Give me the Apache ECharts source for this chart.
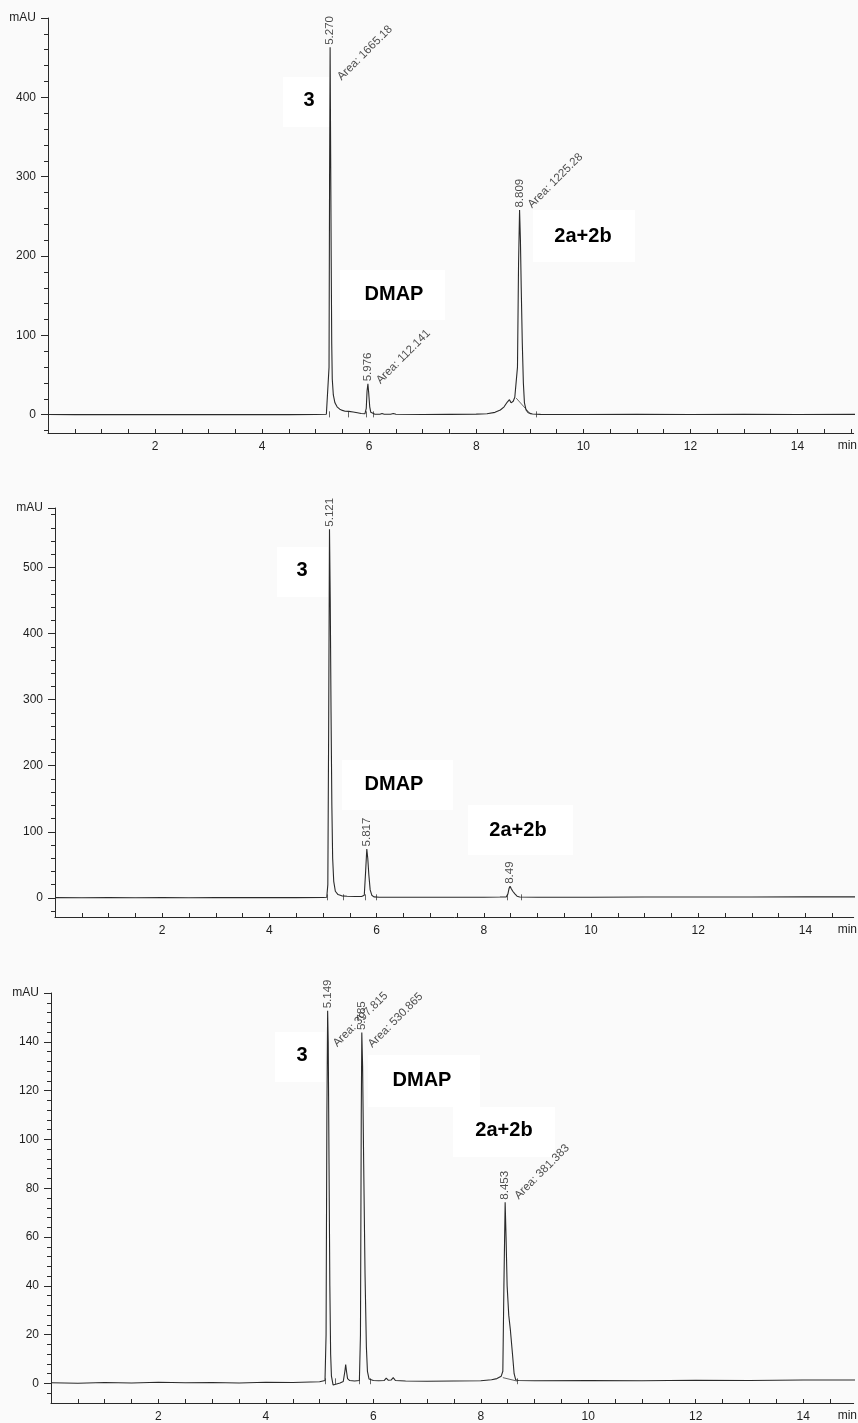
<!DOCTYPE html>
<html>
<head>
<meta charset="utf-8">
<title>HPLC chromatograms</title>
<script src="https://cdn.jsdelivr.net/npm/echarts@6/dist/echarts.min.js"></script>
<style>
  html, body { margin: 0; padding: 0; background: #fafafa; }
  #chart { width: 858px; height: 1423px; }
</style>
</head>
<body>
<div id="chart"></div>
<script>
// ---- retention-time axis (min) ----
const timeLabelValues = [2, 4, 6, 8, 10, 12, 14];
const timeTickValues = [0.5, 1, 1.5, 2, 2.5, 3, 3.5, 4, 4.5, 5, 5.5, 6, 6.5, 7, 7.5,
  8, 8.5, 9, 9.5, 10, 10.5, 11, 11.5, 12, 12.5, 13, 13.5, 14, 14.5, 15];

// ---- run A ----
const runAProfile = [
  [0, 0.3], [0.5, 0.2], [1, 0.4], [1.5, 0.1], [2, 0.3], [2.5, 0.2], [3, 0.4], [3.5, 0.2],
  [4, 0.3], [4.5, 0.2], [5, 0.4], [5.2, 0.6], [5.235, 1.5], [5.25, 60], [5.26, 300],
  [5.28, 330], [5.29, 200], [5.30, 90], [5.31, 45], [5.33, 25], [5.36, 15], [5.40, 10],
  [5.45, 7], [5.50, 5.5], [5.55, 4.5], [5.62, 4.2], [5.70, 3.5], [5.78, 2.5], [5.85, 1.5],
  [5.92, 1.2], [5.945, 8], [5.96, 30],
  [5.99, 28], [6.01, 10], [6.03, 3], [6.06, 0.5], [6.10, 0.8], [6.20, 0.6], [6.24, 1.6],
  [6.28, 0.7], [6.40, 0.6], [6.45, 1.5], [6.50, 0.6], [7, 0.4], [7.5, 0.5], [8, 0.8],
  [8.2, 1.2], [8.35, 3], [8.45, 6], [8.52, 10], [8.58, 16], [8.62, 19], [8.65, 15],
  [8.69, 17], [8.72, 22], [8.745, 21], [8.77, 60], [8.79, 190],
  [8.825, 220], [8.84, 160], [8.86, 90], [8.88, 40], [8.90, 15], [8.93, 6], [8.97, 2.5],
  [9.05, 1], [9.2, 0.5], [10, 0.4], [11, 0.5], [12, 0.4], [13, 0.5], [14, 0.4], [15.1, 0.5]
];
// [retention time, apex height, area]
const runAPeaks = [['5.270', 463, '1665.18'], ['5.976', 39, '112.141'], ['8.809', 258, '1225.28']];
const runABaselines = [[[8.745, 21], [9.02, 0.3]]];
const runAMarkers = [5.25, 5.60, 5.95, 6.08, 9.12];
const runAYLabels = [0, 100, 200, 300, 400];
const runAYMinor = [-20, 20, 40, 60, 80, 120, 140, 160, 180, 220, 240, 260, 280,
  320, 340, 360, 380, 420, 440, 460, 480];

// ---- run B ----
const runBProfile = [
  [0, 0.3], [0.5, 0.1], [1, 0.4], [1.5, 0.2], [2, 0.3], [2.5, 0.1], [3, 0.4], [3.5, 0.3],
  [4, 0.5], [4.5, 0.3], [5, 0.6], [5.07, 1], [5.09, 20], [5.105, 250],
  [5.135, 450], [5.15, 280], [5.165, 140], [5.18, 60], [5.20, 25], [5.23, 10], [5.28, 5],
  [5.35, 3], [5.45, 2.5], [5.6, 2], [5.72, 2], [5.77, 4], [5.795, 40],
  [5.835, 60], [5.855, 35], [5.88, 12], [5.91, 4], [5.95, 1.5], [6.05, 1], [6.5, 0.8],
  [7, 0.8], [7.5, 1], [8, 1], [8.3, 1.2], [8.42, 1.5], [8.45, 6], [8.47, 14],
  [8.51, 14], [8.54, 10], [8.58, 6], [8.62, 2.5], [8.67, 1.2], [9, 1], [10, 1], [11, 1.2],
  [12, 1.3], [13, 1.2], [14, 1.5], [15, 1.5]
];
const runBPeaks = [['5.121', 558, null], ['5.817', 74, null], ['8.49', 17.5, null]];
const runBBaselines = [];
const runBMarkers = [5.07, 5.37, 5.78, 6.0, 8.44, 8.70];
const runBYLabels = [0, 100, 200, 300, 400, 500];
const runBYMinor = [-20, 20, 40, 60, 80, 120, 140, 160, 180, 220, 240, 260, 280,
  320, 340, 360, 380, 420, 440, 460, 480, 520, 540, 560, 580];

// ---- run C ----
const runCProfile = [
  [0, 0.3], [0.5, 0.1], [1, 0.4], [1.5, 0.2], [2, 0.5], [2.5, 0.3], [3, 0.4], [3.5, 0.2],
  [4, 0.5], [4.5, 0.4], [5, 0.7], [5.1, 1.2], [5.12, 20], [5.135, 110],
  [5.16, 140], [5.175, 90], [5.19, 40], [5.205, 12], [5.22, 3], [5.25, -0.6], [5.30, -0.3],
  [5.38, 0.2], [5.44, 0.8], [5.47, 5], [5.485, 7.8], [5.50, 5], [5.52, 2], [5.56, 1.2],
  [5.65, 1.0], [5.74, 1.2], [5.76, 20], [5.775, 110],
  [5.80, 130], [5.82, 90], [5.845, 45], [5.87, 15], [5.89, 5], [5.92, 1.8], [6.0, 1.2],
  [6.1, 1.1], [6.2, 1.2], [6.24, 2.2], [6.28, 1.3], [6.33, 1.4], [6.37, 2.4], [6.41, 1.2],
  [6.6, 1.0], [7, 0.9], [7.5, 1], [8, 1.1], [8.2, 1.5], [8.3, 2], [8.38, 3], [8.41, 5],
  [8.43, 40],
  [8.47, 60], [8.49, 40], [8.52, 28], [8.55, 22], [8.59, 12], [8.62, 4], [8.65, 1.5],
  [8.7, 1.2], [9, 1.1], [10, 1.2], [11, 1.1], [12, 1.3], [13, 1.2], [14, 1.4], [15, 1.4]
];
const runCPeaks = [['5.149', 152.7, '397.815'], ['5.785', 143.8, '530.865'], ['8.453', 74.3, '381.383']];
const runCBaselines = [[[8.41, 2.4], [8.69, 0.9]]];
const runCMarkers = [5.10, 5.29, 5.74, 5.95, 8.68];
const runCYLabels = [0, 20, 40, 60, 80, 100, 120, 140];
const runCYMinor = [-4, 4, 8, 12, 16, 24, 28, 32, 36, 44, 48, 52, 56, 64, 68, 72, 76,
  84, 88, 92, 96, 104, 108, 112, 116, 124, 128, 132, 136, 144, 148, 152, 156];

// compound names printed beside the peaks
const compoundNames = ['3', 'DMAP', '2a+2b'];

// ---- layout and styling ----
const FONT = '"Liberation Sans", Arial, Helvetica, sans-serif';
const INK = '#2a2a2a';

const panels = [
  {
    profile: runAProfile, peaks: runAPeaks, baselines: runABaselines, markers: runAMarkers,
    yLabels: runAYLabels, yMinor: runAYMinor,
    grid: { left: 48, top: 18, width: 810, height: 415 },
    xMax: 15.05, yMin: -23, yMax: 500, markerHalf: 3.8, markerBase: 0.5,
    areaOffsets: [[14, 36], [15, 3], [15, 1]],
    nameBoxes: [
      { box: [283, 77, 47, 50], at: [309, 100] },
      { box: [340, 270, 105, 50], at: [394, 294] },
      { box: [533, 210, 102, 52], at: [583, 236] }
    ]
  },
  {
    profile: runBProfile, peaks: runBPeaks, baselines: runBBaselines, markers: runBMarkers,
    yLabels: runBYLabels, yMinor: runBYMinor,
    grid: { left: 55, top: 508, width: 803, height: 409 },
    xMax: 14.9, yMin: -29, yMax: 590, markerHalf: 4.5, markerBase: 0.8,
    areaOffsets: [],
    nameBoxes: [
      { box: [277, 547, 51, 50], at: [302, 570] },
      { box: [342, 760, 111, 50], at: [394, 784] },
      { box: [468, 805, 105, 50], at: [518, 830] }
    ]
  },
  {
    profile: runCProfile, peaks: runCPeaks, baselines: runCBaselines, markers: runCMarkers,
    yLabels: runCYLabels, yMinor: runCYMinor,
    grid: { left: 51, top: 993, width: 807, height: 410 },
    xMax: 14.94, yMin: -8, yMax: 160, markerHalf: 1.2, markerBase: 0.9,
    areaOffsets: [[12, 39], [13, 18], [16, 0]],
    nameBoxes: [
      { box: [275, 1032, 50, 50], at: [302, 1055] },
      { box: [368, 1055, 112, 52], at: [422, 1080] },
      { box: [453, 1107, 102, 50], at: [504, 1130] }
    ]
  }
];

const grids = [], xAxes = [], yAxes = [], series = [], graphics = [];

panels.forEach((p, i) => {
  grids.push(Object.assign({ containLabel: false }, p.grid));

  xAxes.push({
    gridIndex: i, type: 'value', position: 'bottom', min: 0, max: p.xMax,
    axisLine: { show: true, onZero: false, lineStyle: { color: INK, width: 1 } },
    axisTick: { show: true, inside: true, length: 4, customValues: timeTickValues,
      lineStyle: { color: INK, width: 1 } },
    axisLabel: { customValues: timeLabelValues, margin: 8, fontSize: 12, color: '#1e1e1e',
      fontFamily: FONT },
    splitLine: { show: false },
    name: 'min', nameLocation: 'end', nameGap: -16,
    nameTextStyle: { align: 'left', verticalAlign: 'top', padding: [7, 0, 0, 0],
      fontSize: 12, color: '#1e1e1e', fontFamily: FONT }
  });

  const majorVals = p.yLabels.concat([p.yMax]);
  yAxes.push({
    gridIndex: i, type: 'value', position: 'left', offset: 0, min: p.yMin, max: p.yMax,
    axisLine: { show: true, onZero: false, lineStyle: { color: INK, width: 1 } },
    axisTick: { show: true, length: 7, customValues: majorVals,
      lineStyle: { color: INK, width: 1 } },
    axisLabel: { customValues: majorVals, margin: 12, fontSize: 12, color: '#1e1e1e',
      fontFamily: FONT, formatter: v => (v === p.yMax ? 'mAU' : String(v)) },
    splitLine: { show: false }
  });
  // minor ticks on the same left-hand axis line
  yAxes.push({
    gridIndex: i, type: 'value', position: 'left', offset: 0, min: p.yMin, max: p.yMax,
    axisLine: { show: false, onZero: false },
    axisTick: { show: true, length: 4, customValues: p.yMinor,
      lineStyle: { color: INK, width: 1 } },
    axisLabel: { show: false },
    splitLine: { show: false }
  });

  const yIdx = 2 * i;
  // chromatogram trace: profile points plus the peak apexes
  const apexes = p.peaks.map(pk => [parseFloat(pk[0]), pk[1]]);
  const trace = p.profile.concat(apexes).sort((a, b) => a[0] - b[0]);
  series.push({
    type: 'line', xAxisIndex: i, yAxisIndex: yIdx, data: trace,
    symbol: 'none', smooth: false, sampling: false, silent: true,
    lineStyle: { color: INK, width: 1.1 }, z: 3
  });

  // integration baselines and peak start/end markers
  const segs = p.baselines.map(b => ({ coords: b }))
    .concat(p.markers.map(t => ({
      coords: [[t, p.markerBase - p.markerHalf], [t, p.markerBase + p.markerHalf]]
    })));
  if (segs.length) {
    series.push({
      type: 'lines', coordinateSystem: 'cartesian2d', xAxisIndex: i, yAxisIndex: yIdx,
      data: segs, silent: true, lineStyle: { color: '#555', width: 0.9, opacity: 1 }, z: 2
    });
  }

  // retention-time labels
  series.push({
    type: 'scatter', xAxisIndex: i, yAxisIndex: yIdx, silent: true, symbolSize: 1,
    itemStyle: { color: 'rgba(0,0,0,0)' }, z: 4,
    data: p.peaks.map(pk => ({ value: [parseFloat(pk[0]), pk[1]], name: pk[0] })),
    label: {
      show: true, formatter: d => d.name, position: 'top', distance: 2, rotate: 90,
      align: 'left', verticalAlign: 'middle', fontSize: 11.5, color: '#222', fontFamily: FONT
    }
  });

  // area labels
  const areaData = [];
  p.peaks.forEach((pk, k) => {
    if (pk[2] === null) return;
    areaData.push({
      value: [parseFloat(pk[0]), pk[1]], name: 'Area: ' + pk[2],
      label: { position: p.areaOffsets[k] }
    });
  });
  if (areaData.length) {
    series.push({
      type: 'scatter', xAxisIndex: i, yAxisIndex: yIdx, silent: true, symbolSize: 1,
      itemStyle: { color: 'rgba(0,0,0,0)' }, z: 4, data: areaData,
      label: {
        show: true, formatter: d => d.name, rotate: 45, align: 'left',
        verticalAlign: 'bottom', fontSize: 11.5, color: '#222', fontFamily: FONT
      }
    });
  }

  // compound name tags
  p.nameBoxes.forEach((nb, k) => {
    graphics.push({
      type: 'rect', z: 1, silent: true,
      shape: { x: nb.box[0], y: nb.box[1], width: nb.box[2], height: nb.box[3] },
      style: { fill: '#ffffff' }
    });
    graphics.push({
      type: 'text', z: 5, silent: true, x: nb.at[0], y: nb.at[1],
      style: {
        text: compoundNames[k], fill: '#000', align: 'center', verticalAlign: 'middle',
        font: 'bold 20px ' + FONT
      }
    });
  });
});

const chart = echarts.init(document.getElementById('chart'), null, { renderer: 'canvas' });
chart.setOption({
  backgroundColor: '#fafafa',
  animation: false,
  grid: grids,
  xAxis: xAxes,
  yAxis: yAxes,
  series: series,
  graphic: graphics
});
</script>
</body>
</html>
